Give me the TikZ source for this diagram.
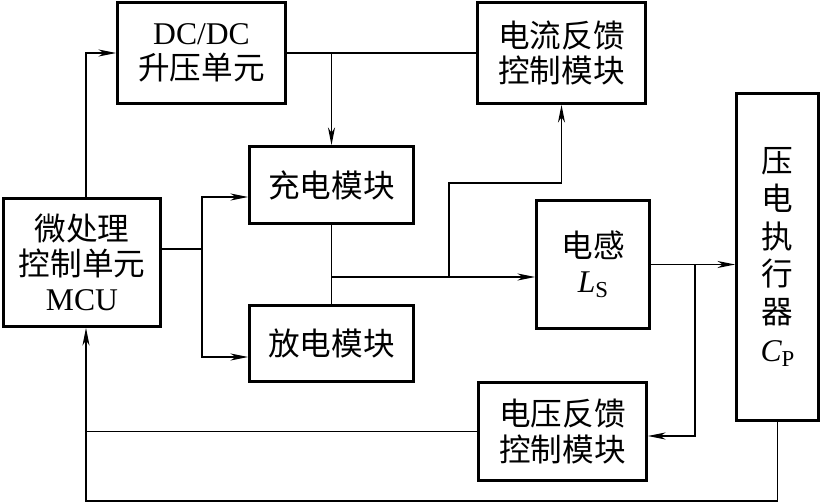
\documentclass[tikz,border=0pt]{standalone}
\usepackage{fontspec}
\setmainfont{Liberation Serif}
\newfontfamily\cjk{Noto Sans CJK SC}
\usetikzlibrary{calc, arrows.meta}
\newcommand\lsub[1]{\raisebox{-0.35ex}{\fontsize{13}{13}\selectfont\upshape #1}}

\begin{document}
\begin{tikzpicture}[x=0.02cm, y=-0.02cm, line width=0.7pt,
    blk/.style={draw, line width=1.7pt, inner sep=0pt, align=center, font=\cjk\fontsize{18}{20}\selectfont},
    arr/.style={-{Stealth[length=10pt,width=4pt,inset=3pt]}}]
    \useasboundingbox (0,0) rectangle (822,503);

    % blocks
    \node[blk, minimum width=3.36cm, minimum height=2.02cm] (dcdc) at (201.5,53) {{\rmfamily DC/DC}\\升压单元};
    \node[blk, minimum width=3.36cm, minimum height=2.02cm] (ifb) at (561.5,53) {电流反馈\\控制模块};
    \node[blk, minimum width=3.28cm, minimum height=1.54cm] (chg) at (331.5,185) {充电模块};
    \node[blk, minimum width=3.28cm, minimum height=1.52cm] (dis) at (331.5,343.5) {放电模块};
    \node[blk, minimum width=3.14cm, minimum height=2.56cm] (mcu) at (82,262.5) {微处理\\控制单元\\{\rmfamily MCU}};
    \node[blk, minimum width=2.26cm, minimum height=2.56cm] (ind) at (593,264.5) {电感\\{\rmfamily\itshape L\lsub{S}}};
    \node[blk, minimum width=1.64cm, minimum height=6.54cm, font=\cjk\fontsize{18}{21.5}\selectfont] (act) at (777.5,257) {压\\电\\执\\行\\器\\{\rmfamily\itshape C\lsub{P}}};
    \node[blk, minimum width=3.36cm, minimum height=1.96cm] (vfb) at (562.5,431.5) {电压反馈\\控制模块};

    % branch points
    \coordinate (c5) at (86,501);
    \coordinate (s1) at (202,249);
    \coordinate (j2) at (331.5,277);
    \coordinate (j3) at (449,277);
    \coordinate (j4) at (695,264.5);

    % connections
    \draw[arr] (c5 |- mcu.north) |- (dcdc.west);
    \draw (dcdc.east) -- (ifb.west);
    \draw[arr] (dcdc.east -| chg.north) -- (chg.north);
    \draw (mcu.east |- s1) -- (s1);
    \draw[arr] (s1) |- ($(chg.west)+(0,12)$);
    \draw[arr] (s1) |- ($(dis.west)+(0,13.5)$);
    \draw (chg.south) -- (dis.north);
    \draw[arr] (j2) -- (j2 -| ind.west);
    \draw[arr] (j3) -- ++(0,-94) -| (ifb.south);
    \draw[arr] (ind.east) -- (ind.east -| act.west);
    \draw[arr] (j4) |- ($(vfb.east)+(0,4.5)$);
    \draw (vfb.west) -- (vfb.west -| c5);
    \draw[arr] (act.south) |- (c5) -- (c5 |- mcu.south);
\end{tikzpicture}
\end{document}
